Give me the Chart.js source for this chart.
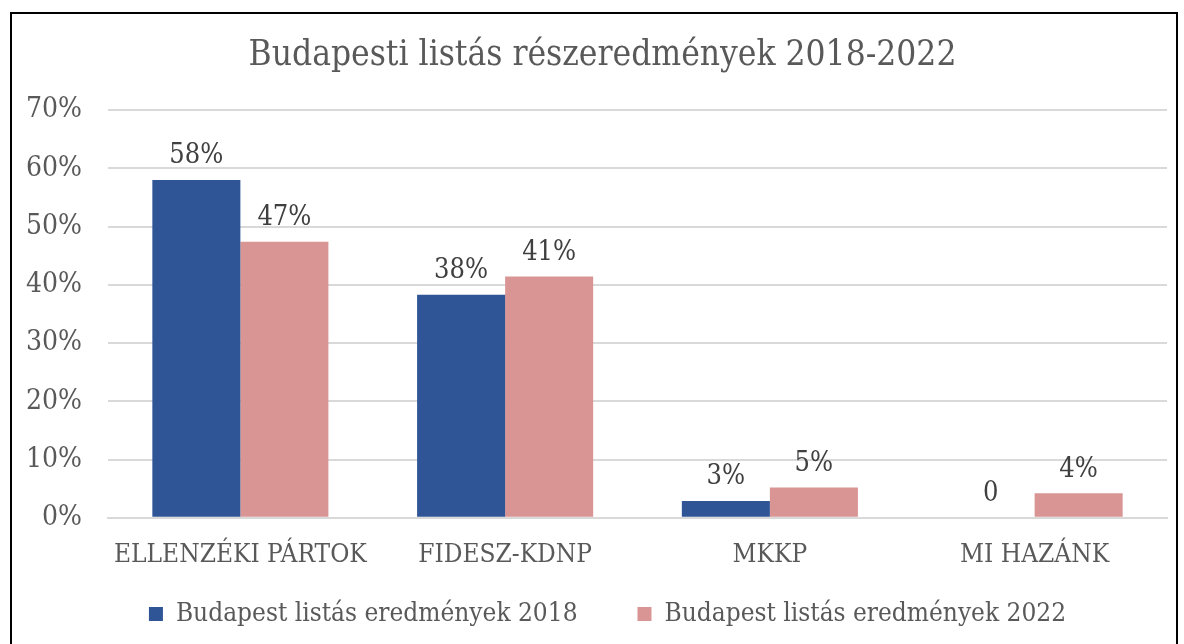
<!DOCTYPE html>
<html>
<head>
<meta charset="utf-8">
<script src="https://cdn.jsdelivr.net/npm/chart.js@4.4.1/dist/chart.umd.min.js"></script>
<style>
html,body{margin:0;padding:0;background:#fff;overflow:hidden}
#frame{position:absolute;left:10px;top:12px;width:1164px;height:640px;border:2px solid #000;border-bottom:none}
#wrap{position:relative;width:1164px;height:630px}
</style>
</head>
<body>
<div id="frame"><div id="wrap"><canvas id="chart"></canvas></div></div>
<script>
const categories=["ELLENZÉKI PÁRTOK","FIDESZ-KDNP","MKKP","MI HAZÁNK"]
const series2018=[58.0,38.3,2.9,0]
const series2022=[47.4,41.4,5.2,4.2]
const seriesNames=["Budapest listás eredmények 2018","Budapest listás eredmények 2022"]
const yTicks=[0,10,20,30,40,50,60,70]

const FONT="'DejaVu Serif Condensed','Liberation Serif',serif"

// value labels above the bars
const barLabels={
id:"barLabels",
afterLayout(chart){
// title and legend sit a bit right of centre in the original
chart.titleBlock.left+=13
chart.titleBlock.right+=13
chart.legend.left+=18
chart.legend.right+=18
},
afterDatasetsDraw(chart){
const c=chart.ctx
c.save()
c.font="27px "+FONT
c.fillStyle="#404040"
c.textAlign="center"
c.textBaseline="bottom"
chart.data.datasets.forEach((ds,i)=>{
chart.getDatasetMeta(i).data.forEach((el,j)=>{
const v=ds.data[j]
const txt=v===0?"0":Math.round(v)+"%"
c.fillText(txt,el.x,el.y-10)
})
})
c.restore()
}
}

new Chart(document.getElementById("chart"),{
type:"bar",
data:{
labels:categories,
datasets:[
{label:seriesNames[0],data:series2018,backgroundColor:"#2f5597"},
{label:seriesNames[1],data:series2022,backgroundColor:"#d99594"}
]
},
options:{
responsive:true,
maintainAspectRatio:false,
animation:false,
datasets:{bar:{categoryPercentage:0.665,barPercentage:1}},
layout:{padding:{left:0,right:9,top:0,bottom:7}},
plugins:{
tooltip:{enabled:false},
title:{
display:true,
text:"Budapesti listás részeredmények 2018-2022",
color:"#595959",
font:{family:FONT,size:35,weight:"normal"},
padding:{top:21,bottom:33}
},
legend:{
position:"bottom",
labels:{
color:"#595959",
font:{family:FONT,size:26},
boxWidth:14,
boxHeight:14,
padding:8,
generateLabels(chart){
const items=Chart.defaults.plugins.legend.labels.generateLabels(chart)
items[0].text+="       "
return items
}
}
}
},
scales:{
x:{
grid:{display:false,drawTicks:false},
border:{color:"#d9d9d9",width:2},
ticks:{color:"#595959",font:{family:FONT,size:26},padding:22}
},
y:{
min:0,
max:70,
afterBuildTicks(axis){axis.ticks=yTicks.map(v=>({value:v}))},
afterFit(axis){axis.width=96},
grid:{color:"#d9d9d9",lineWidth:2,drawTicks:false},
border:{display:false},
ticks:{color:"#595959",font:{family:FONT,size:28},padding:26,callback:v=>v+"%"}
}
}
},
plugins:[barLabels]
})
</script>
</body>
</html>
